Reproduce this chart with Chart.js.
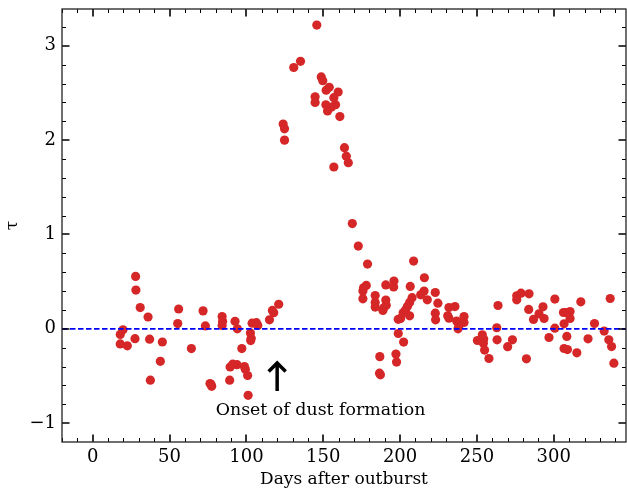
<!DOCTYPE html>
<html><head><meta charset="utf-8">
<script src="https://cdn.jsdelivr.net/npm/chart.js@4.4.0/dist/chart.umd.min.js"></script>
<style>html,body{margin:0;padding:0;background:#fff;}#wrap{width:627px;height:490px;}</style>
</head><body><div id="wrap"><canvas id="c" width="627" height="490"></canvas></div>
<script>
// ---- data ----
const days = [
 17.9,19.7,17.9,22.5,27.9,28.1,27.5,30.9,36.0,37.0,37.5,44.0,45.3,55.9,55.3,64.2,71.8,73.3,76.3,77.0,77.4,
 84.2,84.5,84.2,92.6,94.1,97.0,89.1,89.4,91.1,93.9,98.7,99.3,100.8,101.1,103.7,106.5,107.4,102.6,103.1,102.8,
 115.0,116.9,117.8,121.0,
 123.9,124.8,124.8,130.8,135.2,144.7,144.7,145.8,148.7,149.7,151.9,153.9,151.7,152.8,155.4,156.9,158.0,159.7,
 160.8,156.9,163.8,165.0,166.3,168.9,172.8,178.8,
 178.0,176.2,175.8,175.8,183.8,183.8,183.8,190.7,196.0,195.8,190.7,191.0,189.4,188.8,186.8,186.6,187.2,197.3,
 197.7,198.8,202.3,208.8,206.6,215.8,215.6,213.4,217.7,207.8,206.2,204.8,203.5,202.0,200.3,198.8,206.2,
 222.9,224.6,222.9,223.1,231.8,235.7,231.0,231.8,236.8,238.3,237.7,241.6,241.6,250.3,253.5,254.4,254.2,255.0,
 257.8,263.7,262.9,263.1,270.0,273.1,275.9,275.9,278.7,283.9,282.2,283.7,286.8,290.4,293.0,293.7,296.9,300.7,
 300.7,306.3,308.0,310.6,310.6,306.7,308.5,306.7,308.9,315.0,317.6,322.3,326.5,332.8,336.7,335.8,337.6,339.1
];
const tau = [
 -0.06,-0.01,-0.16,-0.18,0.555,0.41,-0.105,0.225,0.125,-0.11,-0.545,-0.345,-0.14,0.21,0.055,-0.21,0.19,0.03,-0.58,-0.59,-0.61,
 0.13,0.08,0.035,0.08,0.0,-0.21,-0.545,-0.405,-0.375,-0.38,-0.40,-0.43,-0.495,-0.705,0.06,0.065,0.035,-0.045,-0.10,-0.125,
 0.095,0.195,0.17,0.26,
 2.17,2.12,2.0,2.77,2.835,2.46,2.40,3.22,2.67,2.63,2.53,2.56,2.375,2.31,2.35,2.45,2.375,2.51,
 2.25,1.715,1.92,1.83,1.76,1.115,0.877,0.686,
 0.46,0.435,0.40,0.318,0.353,0.279,0.23,0.465,0.506,0.443,0.305,0.25,0.222,0.194,-0.295,-0.47,-0.488,-0.268,
 -0.353,-0.05,-0.141,0.718,0.449,0.541,0.40,0.36,0.307,0.33,0.28,0.238,0.20,0.17,0.11,0.10,0.138,
 0.385,0.272,0.166,0.095,0.226,0.236,0.138,0.113,0.082,0.032,0.0,0.13,0.067,-0.124,-0.064,-0.109,-0.152,-0.226,
 -0.315,0.247,0.011,-0.117,-0.19,-0.117,0.35,0.307,0.378,0.371,-0.318,0.205,0.099,0.159,0.233,0.109,-0.092,0.315,
 0.007,0.173,0.173,0.183,0.109,0.053,-0.081,-0.209,-0.22,-0.255,0.286,-0.106,0.056,-0.024,0.321,-0.117,-0.188,-0.364
];
const xTicks = [0, 50, 100, 150, 200, 250, 300];
const xTickLabels = ['0', '50', '100', '150', '200', '250', '300'];
const yTicks = [-1, 0, 1, 2, 3];
const yTickLabels = ['\u22121', '0', '1', '2', '3'];
const xRange = [-20, 347];
const yRange = [-1.2, 3.39];
const xMinorStep = 10;
const yMinorStep = 0.2;
const baselineX = [-20, 347];
const baselineY = [0, 0];
const annotText = 'Onset of dust formation';
const annotTextPos = [80, -0.915];
const arrowX = 120;
const arrowTail = -0.66;
const arrowTip = -0.353;
const xTitle = 'Days after outburst';
const yTitle = '\u03c4';

const FONT = "'DejaVu Serif', serif";

const framePlugin = {
  id: 'frame',
  afterDraw(chart) {
    const {ctx, chartArea: a, scales: {x, y}} = chart;
    ctx.save();
    ctx.strokeStyle = '#000';
    // minor ticks
    ctx.lineWidth = 1;
    ctx.beginPath();
    for (let v = Math.ceil(xRange[0] / xMinorStep) * xMinorStep; v <= xRange[1] + 1e-9; v += xMinorStep) {
      if (xTicks.some(t => Math.abs(t - v) < 1e-6)) continue;
      const px = Math.round(x.getPixelForValue(v)) + 0.5;
      ctx.moveTo(px, a.bottom); ctx.lineTo(px, a.bottom - 4);
      ctx.moveTo(px, a.top); ctx.lineTo(px, a.top + 4);
    }
    for (let k = Math.ceil(yRange[0] / yMinorStep); k * yMinorStep <= yRange[1] + 1e-9; k++) {
      const v = k * yMinorStep;
      if (yTicks.some(t => Math.abs(t - v) < 1e-6)) continue;
      const py = Math.round(y.getPixelForValue(v)) + 0.5;
      ctx.moveTo(a.left, py); ctx.lineTo(a.left + 4, py);
      ctx.moveTo(a.right, py); ctx.lineTo(a.right - 4, py);
    }
    ctx.stroke();
    // major ticks
    ctx.lineWidth = 1.6;
    ctx.beginPath();
    xTicks.forEach(v => {
      const px = Math.round(x.getPixelForValue(v));
      ctx.moveTo(px, a.bottom); ctx.lineTo(px, a.bottom - 7.5);
      ctx.moveTo(px, a.top); ctx.lineTo(px, a.top + 7.5);
    });
    yTicks.forEach(v => {
      const py = Math.round(y.getPixelForValue(v));
      ctx.moveTo(a.left, py); ctx.lineTo(a.left + 7.5, py);
      ctx.moveTo(a.right, py); ctx.lineTo(a.right - 7.5, py);
    });
    ctx.stroke();
    // frame
    ctx.lineWidth = 1.3;
    ctx.strokeStyle = '#222';
    ctx.strokeRect(a.left, a.top, a.right - a.left, a.bottom - a.top);
    // annotation arrow
    const ax = x.getPixelForValue(arrowX);
    const ty = y.getPixelForValue(arrowTip);
    const by = y.getPixelForValue(arrowTail);
    ctx.strokeStyle = '#000';
    ctx.lineWidth = 3.5;
    ctx.lineJoin = 'miter';
    ctx.beginPath();
    ctx.moveTo(ax, by); ctx.lineTo(ax, ty + 1);
    ctx.moveTo(ax - 8.5, ty + 9.5); ctx.lineTo(ax, ty + 1); ctx.lineTo(ax + 8.5, ty + 9.5);
    ctx.stroke();
    // annotation text
    ctx.fillStyle = '#000';
    ctx.font = "17.4px " + FONT;
    ctx.textAlign = 'left';
    ctx.textBaseline = 'alphabetic';
    ctx.fillText(annotText, x.getPixelForValue(annotTextPos[0]), y.getPixelForValue(annotTextPos[1]));
    ctx.restore();
  }
};

new Chart(document.getElementById('c'), {
  data: {
    datasets: [
      {
        type: 'line',
        data: baselineX.map((v, i) => ({x: v, y: baselineY[i]})),
        borderColor: '#0000ff',
        borderWidth: 1.8,
        borderDash: [5.5, 2.5],
        pointRadius: 0,
        fill: false,
        order: 0
      },
      {
        type: 'scatter',
        data: days.map((d, i) => ({x: d, y: tau[i]})),
        backgroundColor: '#d62728',
        borderWidth: 0,
        pointRadius: 4.6,
        pointHoverRadius: 4.6,
        order: 1
      }
    ]
  },
  options: {
    responsive: false,
    animation: false,
    devicePixelRatio: 1,
    layout: {autoPadding: false, padding: {left: 0, right: 1, top: 9, bottom: 0}},
    plugins: {legend: {display: false}, tooltip: {enabled: false}},
    scales: {
      x: {
        type: 'linear', min: xRange[0], max: xRange[1],
        afterBuildTicks: s => { s.ticks = xTicks.map(v => ({value: v})); },
        afterFit: s => { s.height = 48; s.paddingLeft = 0; s.paddingRight = 0; },
        grid: {display: false, drawTicks: false},
        border: {display: false},
        ticks: {
          color: '#000', font: {family: FONT, size: 18}, padding: 5,
          maxRotation: 0, autoSkip: false,
          callback: (v) => xTickLabels[xTicks.indexOf(v)]
        },
        title: {display: true, text: xTitle, color: '#000', font: {family: FONT, size: 17}, padding: {top: 0, bottom: 0}}
      },
      y: {
        type: 'linear', min: yRange[0], max: yRange[1],
        afterBuildTicks: s => { s.ticks = yTicks.map(v => ({value: v})); },
        afterFit: s => { s.width = 62; s.paddingTop = 0; s.paddingBottom = 0; },
        grid: {display: false, drawTicks: false},
        border: {display: false},
        ticks: {
          color: '#000', font: {family: FONT, size: 18}, padding: 6, autoSkip: false,
          callback: (v) => yTickLabels[yTicks.indexOf(v)]
        },
        title: {display: true, text: yTitle, color: '#000', font: {family: FONT, size: 17}, padding: {top: 2, bottom: 0}}
      }
    }
  },
  plugins: [framePlugin]
});
</script>
</body></html>
